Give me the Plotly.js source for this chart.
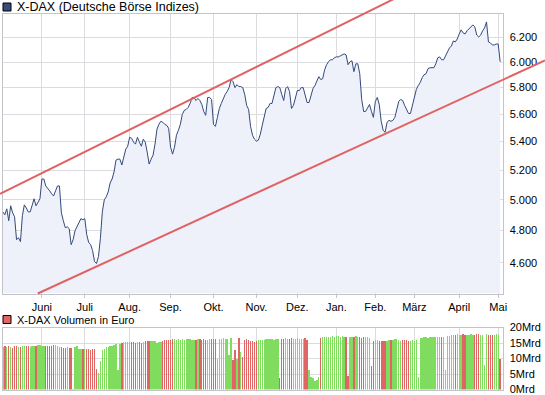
<!DOCTYPE html>
<html><head><meta charset="utf-8">
<script src="https://cdn.plot.ly/plotly-3.0.1.min.js"></script>
<style>html,body{margin:0;padding:0;background:#fff}#chart{width:545px;height:395px}</style>
</head><body><div id="chart"></div>
<script>
// ---------------- data ----------------
const monthLabels = ['Juni','Juli','Aug.','Sep.','Okt.','Nov.','Dez.','Jan.','Feb.','März','April','Mai'];
const monthStartIdx = [20,42,65,86,108,130,151,171,191,211,234,254];
const priceTicks = [4600,4800,5000,5200,5400,5600,5800,6000,6200];
const priceTickText = ['4.600','4.800','5.000','5.200','5.400','5.600','5.800','6.000','6.200'];
const volTicks = [0,5,10,15,20];
const volTickText = ['0Mrd','5Mrd','10Mrd','15Mrd','20Mrd'];

const close = [4920,4901,4940,4863,4960,4914,4888,4742,4755,4730,
4895,4966,4946,4920,4920,4960,5006,4960,4979,5006,
5139,5139,5092,5078,5059,5039,5025,5059,5092,5092,
4914,4863,4818,4824,4812,4711,4742,4799,4824,4850,
4876,4869,4876,4774,4724,4711,4674,4607,4595,4637,
4749,4920,4999,5019,5052,5112,5139,5187,5269,5276,
5276,5235,5290,5346,5367,5431,5424,5396,5382,5431,
5396,5367,5417,5396,5325,5242,5276,5304,5382,5489,
5525,5547,5540,5525,5518,5496,5360,5311,5360,5446,
5481,5525,5598,5628,5635,5650,5680,5725,5725,5702,
5717,5702,5672,5620,5591,5725,5725,5710,5525,5510,
5576,5642,5680,5717,5748,5770,5800,5862,5846,5800,
5823,5808,5808,5800,5748,5665,5635,5510,5446,5417,
5403,5410,5453,5518,5583,5642,5650,5680,5680,5740,
5800,5808,5800,5748,5702,5792,5808,5770,5642,5665,
5732,5778,5778,5800,5800,5748,5687,5687,5732,5792,
5816,5854,5885,5862,5869,5939,5979,6002,6018,6018,
6034,6041,6041,6049,6057,6065,6057,5979,6002,6010,
5924,5986,5986,5908,5710,5620,5620,5642,5672,5620,
5576,5695,5725,5672,5547,5481,5467,5540,5554,5547,
5554,5576,5642,5695,5710,5702,5665,5628,5605,5605,
5665,5732,5785,5816,5839,5877,5900,5908,5947,5955,
5955,5955,5986,6034,6041,6018,6018,6049,6073,6113,
6129,6170,6162,6186,6227,6261,6236,6227,6253,6269,
6286,6302,6286,6218,6202,6218,6253,6277,6327,6162,
6154,6137,6137,6145,6145,6002];

const volume = [13.8,13.9,13.7,14.0,13.6,13.3,13.9,14.0,13.8,13.6,
14.0,14.1,13.9,14.0,13.8,14.1,14.2,14.0,14.3,14.5,
14.2,14.2,14.0,14.1,14.1,13.9,14.4,14.3,13.9,13.7,
13.6,13.5,13.4,13.6,13.5,13.3,0.3,13.6,13.9,13.1,
13.0,13.0,13.0,13.1,13.0,12.9,13.0,13.0,6.5,5.4,
9.3,12.9,13.2,13.6,13.8,14.0,14.1,14.4,14.6,6.2,
14.8,15.1,15.3,15.2,15.2,15.2,15.3,15.2,15.1,15.2,
15.3,15.0,15.2,15.6,15.7,15.7,15.6,15.7,15.6,15.1,
15.4,15.5,15.6,15.9,16.0,16.0,16.1,16.3,16.2,16.1,
16.3,16.1,16.2,16.0,16.3,16.3,16.3,16.0,15.9,16.1,
16.4,16.2,16.1,16.3,16.0,15.9,16.2,16.4,16.3,16.2,
9.9,16.3,16.4,16.5,16.4,16.3,11.3,16.6,9.5,12.8,
10.0,16.8,12.0,10.5,16.0,16.2,15.9,15.8,15.6,15.5,
15.8,15.9,16.0,16.0,16.1,16.2,16.3,16.2,16.4,16.1,
16.3,16.2,3.7,16.3,16.4,16.5,16.2,16.3,16.5,16.4,
16.3,16.5,16.4,16.2,16.3,16.5,16.1,6.2,4.2,3.8,
2.9,3.2,4.2,16.8,16.9,17.0,17.0,17.1,17.0,17.2,
17.1,17.4,17.3,17.0,17.2,17.0,16.9,4.3,17.0,17.1,
16.9,17.2,17.0,17.0,16.8,17.1,16.9,17.0,16.5,7.5,
15.8,15.9,16.0,15.6,15.7,15.8,15.6,15.8,15.9,16.0,
16.1,16.3,16.2,16.0,15.8,15.9,16.1,16.0,15.8,15.7,
15.9,15.8,16.0,3.9,16.6,16.8,16.9,17.0,16.8,17.0,
17.1,17.0,16.9,17.0,17.1,17.0,16.9,6.3,17.3,17.4,
17.5,17.6,17.5,17.8,17.7,17.6,17.8,17.5,17.7,17.6,
17.8,17.7,17.6,17.8,17.9,17.7,17.6,8.0,17.8,17.6,
17.7,17.5,17.6,17.8,17.7,10.0];

// trend channel anchors (index, value)
const upperChannelIdx = [0,255], upperChannelVal = [5048,6993];
const lowerChannelIdx = [20,255], lowerChannelVal = [4427,5851];

// ---------------- layout geometry ----------------
const W=545, H=395;
const px = v => v/W, py = v => 1 - v/H;
const xDom = [px(2.5), px(502.5)];
const pDom = [py(293.5), py(14)];
const vDom = [py(389.5), py(327.6)];
const xRange = [-0.2, 256.2];
const yRange = [Math.log10(4416), Math.log10(6394)];

const idx = close.map((_,i)=>i);
const volColor = close.map((c,i)=> i===0 ? '#7fdc5f' : (c>=close[i-1] ? '#7fdc5f' : '#e06666'));

// overlay axis covering whole figure, aligned to price axes
const xs = (xRange[1]-xRange[0])/(xDom[1]-xDom[0]);
const x3Range = [xRange[0]-xDom[0]*xs, xRange[1]+(1-xDom[1])*xs];
const ys = (yRange[1]-yRange[0])/(pDom[1]-pDom[0]);
const y3Range = [yRange[0]-pDom[0]*ys, yRange[1]+(1-pDom[1])*ys];

function lineThrough(ix, vals, xa, xb){
  const l0=Math.log10(vals[0]), l1=Math.log10(vals[1]);
  const s=(l1-l0)/(ix[1]-ix[0]);
  return {x:[xa,xb], y:[Math.pow(10,l0+s*(xa-ix[0])), Math.pow(10,l0+s*(xb-ix[0]))]};
}
const up = lineThrough(upperChannelIdx, upperChannelVal, x3Range[0], x3Range[1]);
const ls=(Math.log10(lowerChannelVal[1])-Math.log10(lowerChannelVal[0]))/(lowerChannelIdx[1]-lowerChannelIdx[0]);
const lowStart = lowerChannelIdx[0] + (yRange[0]-Math.log10(lowerChannelVal[0]))/ls;
const lo = lineThrough(lowerChannelIdx, lowerChannelVal, lowStart, x3Range[1]);

const font = {family:'Liberation Sans, Arial, sans-serif', size:11, color:'#000'};
const grid = '#dcdce0', border = '#c4c4c8';

const traces = [
  {x:idx, y:idx.map(()=>Math.pow(10,yRange[0])), type:'scatter', mode:'lines', line:{width:0}, hoverinfo:'skip', xaxis:'x', yaxis:'y', showlegend:false},
  {x:idx, y:close, type:'scatter', mode:'lines', fill:'tonexty', fillcolor:'#eef1fa', line:{color:'#34497a', width:1}, xaxis:'x', yaxis:'y', showlegend:false},
  {x:idx, y:volume, type:'bar', marker:{color:volColor, line:{width:0}}, width:0.7, xaxis:'x2', yaxis:'y2', showlegend:false},
  {x:up.x, y:up.y, type:'scatter', mode:'lines', line:{color:'#e06262', width:2}, xaxis:'x3', yaxis:'y3', showlegend:false},
  {x:lo.x, y:lo.y, type:'scatter', mode:'lines', line:{color:'#e06262', width:2}, xaxis:'x3', yaxis:'y3', showlegend:false}
];

const layout = {
  width:W, height:H, margin:{l:0,r:0,t:0,b:0}, paper_bgcolor:'#fff', plot_bgcolor:'rgba(0,0,0,0)',
  font:font, showlegend:false, bargap:0,
  xaxis:{domain:xDom, range:xRange, anchor:'y', tickmode:'array', tickvals:monthStartIdx, ticktext:monthLabels,
    showgrid:true, gridcolor:grid, gridwidth:1, ticks:'outside', ticklen:3, tickcolor:border,
    showline:true, linecolor:border, mirror:true, zeroline:false, tickfont:font, ticklabeloverflow:'allow'},
  yaxis:{domain:pDom, range:yRange, type:'log', anchor:'x', side:'right', tickmode:'array', tickvals:priceTicks, ticktext:priceTickText,
    showgrid:true, gridcolor:grid, ticks:'', ticklabelstandoff:4, showline:true, linecolor:border, mirror:true, zeroline:false, tickfont:font, ticklabeloverflow:'allow'},
  xaxis2:{domain:xDom, range:xRange, anchor:'y2', tickmode:'array', tickvals:monthStartIdx, showticklabels:false,
    showgrid:true, gridcolor:grid, ticks:'', showline:true, linecolor:border, mirror:true, zeroline:false},
  yaxis2:{domain:vDom, range:[0,20], anchor:'x2', side:'right', tickmode:'array', tickvals:volTicks, ticktext:volTickText,
    showgrid:true, gridcolor:grid, ticks:'', ticklabelstandoff:4, showline:true, linecolor:border, mirror:true, zeroline:false, tickfont:font, ticklabeloverflow:'allow'},
  xaxis3:{domain:[0,1], range:x3Range, anchor:'y3', visible:false},
  yaxis3:{domain:[0,1], range:y3Range, type:'log', anchor:'x3', visible:false},
  shapes:[
    {type:'rect', xref:'paper', yref:'paper', x0:px(3), x1:px(11), y0:py(11), y1:py(3), fillcolor:'#3a4c7e', line:{color:'#000', width:1}},
    {type:'rect', xref:'paper', yref:'paper', x0:px(3), x1:px(11), y0:py(323.5), y1:py(315.5), fillcolor:'#e06666', line:{color:'#000', width:1}}
  ],
  annotations:[
    {xref:'paper', yref:'paper', x:px(15), y:py(7.5), xanchor:'left', yanchor:'middle', showarrow:false, text:'X-DAX (Deutsche Börse Indizes)', font:{family:font.family, size:12.5, color:'#000'}},
    {xref:'paper', yref:'paper', x:px(15), y:py(319.6), xanchor:'left', yanchor:'middle', showarrow:false, text:'X-DAX Volumen in Euro', font:{family:font.family, size:11, color:'#000'}}
  ]
};
Plotly.newPlot('chart', traces, layout, {displayModeBar:false, staticPlot:true});
</script></body></html>
